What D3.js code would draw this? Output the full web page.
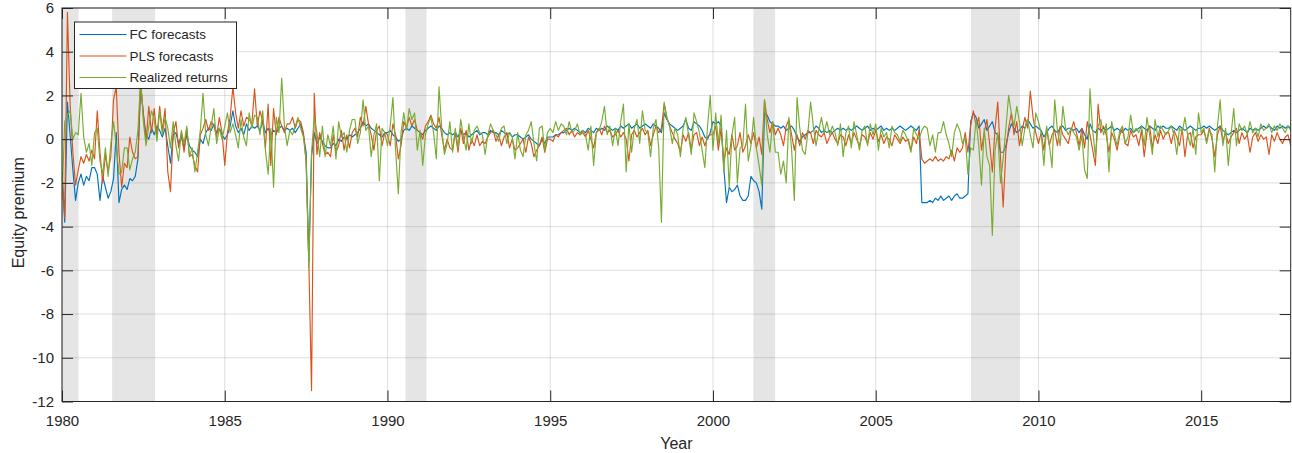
<!DOCTYPE html>
<html>
<head>
<meta charset="utf-8">
<script src="https://cdn.jsdelivr.net/npm/d3@7/dist/d3.min.js"></script>
<style>
body { margin: 0; background: #fff; }
svg { display: block; }
text { font-family: Arial, "Liberation Sans", sans-serif; fill: #262626; }
</style>
</head>
<body>
<svg id="chart" width="1292" height="453"></svg>
<script>
// monthly values, one row per year starting Jan 1980
const fcForecasts = [
  [-1.5,-3.8,1.7,0.2,-1.4,-2.8,-2.0,-1.6,-2.1,-1.7,-1.9,-1.3],
  [-1.3,-1.6,-2.8,-1.7,-2.2,-2.7,-2.4,-1.8,0.3,-2.9,-2.3,-2.1],
  [-2.3,-1.8,-1.9,-1.7,-0.9,2.5,1.1,0.2,0.0,0.5,0.2,0.6],
  [0.4,0.1,0.5,-0.3,-1.1,0.2,0.3,-0.2,0.1,-0.4,0.2,-0.3],
  [-0.5,-0.6,-0.8,0.0,-0.2,0.3,0.5,0.4,0.7,0.3,0.5,0.2],
  [0.0,0.2,0.6,1.3,0.6,0.3,0.5,0.2,0.7,0.4,0.6,0.5],
  [0.6,0.4,0.8,0.3,0.5,0.2,0.4,0.3,0.5,0.6,0.4,0.5],
  [0.4,0.5,0.3,0.5,0.7,0.2,-0.6,-5.6,-0.8,0.3,-0.2,0.1],
  [-0.1,-0.3,-0.4,-0.4,-0.2,-0.3,0.0,-0.1,0.1,0.0,0.2,0.1],
  [0.2,0.3,0.5,0.8,0.6,0.7,0.5,0.4,0.3,0.2,0.1,0.3],
  [0.3,0.4,0.2,0.1,-0.1,0.0,0.4,0.5,0.4,0.6,0.5,0.4],
  [0.3,0.2,0.4,0.5,0.6,0.5,0.4,0.6,0.5,0.3,0.2,0.3],
  [0.2,0.3,0.1,0.4,0.2,0.3,0.1,0.2,0.3,0.4,0.2,0.3],
  [0.3,0.2,0.4,0.3,0.3,0.2,0.4,0.3,0.2,0.3,0.1,0.2],
  [0.2,0.1,0.0,0.1,0.2,0.0,-0.1,-0.2,-0.3,0.0,-0.2,0.1],
  [0.1,0.1,0.2,0.2,0.3,0.3,0.4,0.5,0.4,0.5,0.4,0.3],
  [0.4,0.3,0.5,0.4,0.3,0.5,0.4,0.5,0.4,0.6,0.5,0.4],
  [0.5,0.4,0.6,0.5,0.6,0.7,0.5,0.6,0.7,0.5,0.6,0.7],
  [0.6,0.5,0.7,0.6,0.5,0.3,1.2,0.9,0.7,0.6,0.5,0.4],
  [0.5,0.6,0.9,0.5,0.4,0.8,0.7,0.6,0.4,0.1,0.0,0.3],
  [0.8,0.7,0.8,0.6,-1.3,-2.9,-2.2,-2.4,-2.3,-2.1,-2.6,-2.8],
  [-2.8,-2.6,-1.7,-1.9,-2.0,-2.4,-3.2,1.2,1.1,0.8,0.7,0.6],
  [0.6,0.5,0.6,0.4,0.5,0.6,0.4,0.1,-0.1,0.1,0.2,0.3],
  [0.3,0.4,0.6,0.5,0.3,0.4,0.3,0.4,0.3,0.4,0.5,0.4],
  [0.5,0.4,0.5,0.4,0.5,0.6,0.5,0.4,0.5,0.6,0.4,0.5],
  [0.4,0.5,0.6,0.4,0.5,0.4,0.5,0.4,0.5,0.6,0.5,0.4],
  [0.5,0.6,0.5,0.4,0.6,-2.9,-2.9,-2.9,-2.8,-2.9,-2.7,-2.8],
  [-2.6,-2.8,-2.7,-2.6,-2.8,-2.6,-2.5,-2.7,-2.7,-2.6,-2.5,0.8],
  [1.2,1.0,0.5,0.7,0.9,0.4,0.6,0.8,0.3,0.2,-0.6,-0.6],
  [-0.3,0.3,0.7,0.5,0.3,0.4,0.6,0.5,0.9,0.7,0.5,0.6],
  [0.5,0.4,0.1,0.3,0.5,0.6,0.4,0.3,0.5,0.6,0.4,0.5],
  [0.5,0.4,0.5,0.3,0.5,0.2,0.0,0.7,0.4,0.3,0.5,0.4],
  [0.5,0.4,0.5,0.6,0.4,0.5,0.4,0.3,0.5,0.4,0.5,0.3],
  [0.4,0.5,0.6,0.5,0.4,0.6,0.5,0.4,0.6,0.5,0.6,0.5],
  [0.5,0.6,0.5,0.4,0.6,0.5,0.4,0.5,0.6,0.5,0.4,0.5],
  [0.5,0.6,0.5,0.6,0.5,0.4,0.5,0.6,0.4,0.3,0.2,0.3],
  [0.4,0.3,0.4,0.5,0.4,0.3,0.5,0.4,0.5,0.4,0.5,0.6],
  [0.5,0.6,0.5,0.4,0.6,0.5,0.6,0.5,0.6,0.5]
]
const plsForecasts = [
  [-1.5,-3.6,5.8,1.6,-0.6,-2.1,-1.4,-0.8,-1.1,-0.7,-1.0,-0.5],
  [-0.9,1.3,-0.6,-2.0,-0.7,-1.5,-0.8,1.8,2.4,-0.6,-2.2,-1.1],
  [-1.3,0.1,-0.6,-0.9,-0.8,2.5,1.2,-0.1,1.5,0.3,1.4,0.1],
  [1.5,0.4,1.4,-1.5,-2.4,0.3,0.8,-0.4,0.3,-0.6,0.5,-0.8],
  [-0.7,-1.2,-1.5,0.2,0.5,0.9,0.4,0.8,0.6,0.1,1.0,0.3],
  [-1.2,0.3,1.0,2.4,1.2,0.5,1.3,0.6,1.0,0.9,0.7,2.3],
  [0.6,1.3,0.8,-0.4,1.6,-1.2,1.4,0.2,1.0,0.6,0.3,0.7],
  [0.7,1.0,0.5,0.9,0.8,0.3,-1.0,-5.6,-11.5,2.1,-0.7,0.3],
  [-0.2,-0.7,-0.6,-0.8,0.2,-0.6,-0.3,0.4,-0.5,0.2,-0.4,0.3],
  [0.5,0.1,1.0,0.6,1.5,0.7,0.2,-0.5,0.4,0.6,-0.3,0.3],
  [0.2,-0.3,0.7,0.2,-0.9,-0.3,0.8,0.5,1.0,0.6,0.9,0.4],
  [0.3,0.0,0.6,0.8,1.1,0.7,0.5,1.0,0.2,-0.5,0.0,-0.4],
  [-0.5,0.3,-0.6,0.5,-0.2,0.4,-0.5,0.0,-0.3,0.2,-0.3,-0.1],
  [-0.2,0.1,0.3,0.4,-0.1,0.2,-0.3,0.1,0.3,-0.4,0.0,-0.5],
  [-0.4,-0.2,0.0,-0.6,0.1,-0.2,-0.8,-0.5,-0.3,0.1,-0.6,0.0],
  [0.0,-0.1,0.2,0.1,0.3,0.4,0.5,0.2,0.4,0.1,0.3,0.2],
  [0.3,0.1,0.4,0.0,-0.4,0.3,0.5,0.2,0.6,0.3,0.4,0.1],
  [0.2,0.4,0.1,0.3,0.0,-1.0,0.2,0.4,0.1,0.3,0.5,0.2],
  [0.4,-0.3,0.2,0.6,0.3,0.5,1.6,1.0,0.6,0.3,0.0,-0.2],
  [-0.6,0.2,-0.1,0.3,-0.5,0.2,0.3,-0.3,0.1,-0.3,0.1,0.2],
  [0.2,0.6,-0.5,0.5,-1.0,-0.4,-0.7,0.2,-0.5,-0.3,0.3,-0.6],
  [-0.3,0.2,-0.2,0.3,-0.4,0.1,-0.7,1.8,0.9,0.3,0.8,0.2],
  [0.5,0.2,-0.3,0.6,0.9,0.2,-0.5,0.2,-0.3,0.3,0.0,0.4],
  [0.3,-0.2,0.4,0.2,0.1,0.3,-0.2,0.1,0.3,0.0,-0.2,0.2],
  [0.1,-0.3,0.2,-0.2,0.3,0.0,-0.3,0.2,0.1,-0.2,0.3,0.0],
  [0.4,-0.1,0.2,-0.2,0.1,0.0,-0.3,0.2,0.0,-0.2,0.1,-0.1],
  [0.0,-0.5,0.1,-0.2,0.4,-0.9,-1.1,-1.0,-0.9,-1.0,-0.8,-1.0],
  [-0.9,-1.0,-0.8,-0.9,-0.5,-1.0,-0.4,-0.6,-0.4,0.3,-0.6,0.6],
  [1.3,0.6,1.0,-0.5,0.3,0.9,-0.2,-1.5,0.5,1.7,-0.8,-3.1],
  [-0.5,0.5,1.2,0.2,0.8,-0.3,0.4,1.0,0.5,2.2,1.0,0.3],
  [-0.2,0.3,-0.5,0.5,-0.3,0.2,0.4,-0.3,0.6,0.2,0.0,-0.2],
  [0.4,0.8,0.3,-0.3,0.5,-0.4,0.8,0.2,-0.5,-1.2,1.6,0.3],
  [0.6,0.2,-0.6,0.3,0.0,-0.5,0.2,0.5,-0.2,-0.3,0.4,0.1],
  [0.2,-0.3,0.4,-0.8,0.3,0.6,-0.4,0.2,-0.2,0.4,0.0,0.3],
  [0.3,-0.2,0.4,0.1,-0.3,0.5,-0.8,0.2,0.3,-0.4,0.1,0.2],
  [0.2,0.4,-0.1,0.5,0.0,-0.8,0.2,0.6,-0.1,0.3,-0.2,0.1],
  [0.3,0.5,-0.2,0.3,0.0,0.2,-0.6,0.1,0.3,-0.1,0.2,0.0],
  [0.1,-0.7,0.2,-0.1,0.3,0.0,-0.2,0.1,0.2,-0.3]
]
const realizedReturns = [
  [-2.8,0.8,1.1,1.3,0.0,0.3,0.2,2.1,0.1,-0.6,-0.2,-1.2],
  [0.3,0.5,-1.0,-1.6,-0.4,-1.7,-0.2,0.8,-0.3,-1.6,-1.5,-0.4],
  [-0.4,-1.4,-0.9,-0.6,0.4,2.8,0.8,-0.3,0.6,1.3,0.9,-0.1],
  [1.3,0.2,1.0,0.5,-0.4,0.8,-0.3,-1.0,0.4,-0.2,0.6,-0.8],
  [-0.4,-1.5,-0.6,0.4,2.1,0.2,-0.3,0.6,1.4,-0.2,0.5,0.0],
  [0.6,1.2,0.3,0.7,0.2,-0.4,0.9,0.1,-0.3,1.2,0.5,1.1],
  [1.0,0.2,1.3,-0.5,-1.6,0.5,-2.2,1.0,0.3,2.8,0.6,-0.3],
  [0.4,0.2,0.6,1.0,0.5,0.1,-1.0,-5.9,-0.6,1.0,0.3,-0.8],
  [0.6,-0.8,0.2,-0.3,0.6,-0.9,0.8,0.1,0.3,-0.6,0.4,0.9],
  [0.9,-0.2,0.3,1.8,0.4,0.6,-0.8,0.2,0.7,-1.9,0.5,0.3],
  [-0.3,0.6,1.9,-0.5,-2.5,0.3,1.2,0.4,1.4,0.9,1.2,-0.5],
  [0.4,-1.2,0.2,0.7,1.0,0.3,-0.9,2.4,0.5,-0.7,-0.2,0.8],
  [-0.6,0.5,-0.4,0.9,0.1,-0.5,0.7,-0.2,0.4,0.6,0.3,0.2],
  [-0.7,0.2,0.7,0.4,0.2,-0.1,0.5,0.6,-0.2,0.3,0.1,-0.9],
  [0.3,-0.5,-0.8,0.2,0.4,0.8,-0.2,-1.0,0.5,0.6,-0.5,0.3],
  [0.5,0.3,0.8,0.4,0.7,0.6,0.2,0.8,0.3,0.4,0.7,0.2],
  [0.4,0.2,-0.5,0.6,-1.2,0.3,0.4,0.8,1.5,0.2,0.6,-0.3],
  [0.5,-0.3,0.8,1.6,-1.5,0.7,-0.6,0.5,0.9,-0.2,1.3,0.4],
  [0.3,-0.8,0.5,0.9,-0.4,-3.8,1.7,1.0,0.6,-0.2,0.5,0.2],
  [-0.8,0.5,1.0,0.2,-0.7,1.2,0.8,0.3,-0.5,-1.3,0.6,2.0],
  [-0.5,1.2,-0.2,1.1,-1.5,0.4,-2.2,0.2,1.0,-2.0,-0.4,-0.3],
  [1.6,-1.0,-0.3,1.0,-0.4,-1.2,-2.1,1.8,0.2,-0.6,0.8,-0.6],
  [-0.6,-1.6,-1.0,-2.0,1.0,-0.5,-2.8,1.9,0.5,-0.5,-0.7,0.3],
  [1.7,0.6,-0.3,0.4,1.0,0.3,0.8,0.2,0.6,0.3,-0.3,0.7],
  [-0.8,0.3,0.6,-0.4,0.8,0.2,-0.5,0.4,0.6,-0.3,0.7,0.2],
  [0.7,-0.5,0.5,0.1,0.3,-0.4,0.6,0.3,0.2,-0.1,0.4,0.2],
  [-0.1,-0.6,0.5,0.2,0.0,0.4,0.6,0.5,-0.3,0.2,-0.6,0.3],
  [0.3,0.8,0.2,-0.2,-0.8,0.3,0.7,0.4,-0.2,0.1,-1.6,-0.4],
  [-0.5,0.9,-0.3,-2.1,0.5,-0.8,-1.2,-4.4,-0.5,0.3,-2.0,-0.9],
  [0.5,2.0,1.2,0.6,1.5,0.8,-0.3,0.5,0.9,0.2,-0.4,1.2],
  [0.8,0.3,-1.2,0.6,-0.2,-1.3,1.8,0.4,-0.3,1.5,0.5,0.2],
  [0.5,0.3,0.1,-0.5,0.2,-1.4,-1.8,2.3,0.4,-0.8,0.6,0.9],
  [0.2,0.7,-1.5,0.8,0.2,-0.3,0.4,0.6,-0.2,0.1,1.1,0.3],
  [0.5,0.3,0.6,-0.3,1.0,0.2,-0.7,0.9,0.1,0.6,0.4,0.2],
  [0.4,0.6,0.2,-0.7,0.5,0.3,1.0,0.2,-0.3,0.5,-0.7,1.2],
  [0.3,0.5,-0.2,0.4,0.2,-1.5,0.6,1.8,-0.3,0.5,-1.2,0.2],
  [1.4,-0.3,0.7,0.4,0.6,0.2,0.8,0.3,0.5,0.1,0.7,0.4],
  [0.5,0.7,0.3,0.6,0.4,0.7,0.5,0.3,0.6,0.4]
]
// shaded recession periods (decimal years)
const recessions = [[1980.0, 1980.51], [1981.54, 1982.86], [1990.55, 1991.2], [2001.24, 2001.91], [2007.93, 2009.43]]
const xTicks = [1980, 1985, 1990, 1995, 2000, 2005, 2010, 2015]
const yTicks = [-12, -10, -8, -6, -4, -2, 0, 2, 4, 6]
const seriesNames = ['FC forecasts', 'PLS forecasts', 'Realized returns']
const seriesColors = ['#0072BD', '#D95319', '#77AC30']

const toPoints = (rows) => rows.flat().map((v, i) => ({ t: 1980 + i / 12, v: v }))
const series = [fcForecasts, plsForecasts, realizedReturns].map(toPoints)

const svg = d3.select('#chart')
const plotLeft = 62, plotRight = 1290.7, plotTop = 8, plotBottom = 401.5

const x = d3.scaleLinear().domain([1980, 1980 + (series[0].length - 1) / 12]).range([plotLeft, plotRight])
const y = d3.scaleLinear().domain([-12, 6]).range([plotBottom, plotTop])

svg.append('defs').append('clipPath').attr('id', 'plot')
    .append('rect').attr('x', plotLeft).attr('y', plotTop)
    .attr('width', plotRight - plotLeft).attr('height', plotBottom - plotTop)

// recession bands
svg.append('g').selectAll('rect')
    .data(recessions)
    .enter()
    .append('rect')
    .attr('x', (d) => x(d[0]))
    .attr('width', (d) => x(d[1]) - x(d[0]))
    .attr('y', plotTop)
    .attr('height', plotBottom - plotTop)
    .attr('fill', '#e5e5e5')

// grid
const grid = svg.append('g').attr('stroke', '#262626').attr('stroke-opacity', 0.15).attr('stroke-width', 1)
grid.selectAll('.gx').data(xTicks).enter().append('line')
    .attr('x1', (d) => x(d)).attr('x2', (d) => x(d)).attr('y1', plotTop).attr('y2', plotBottom)
grid.selectAll('.gy').data(yTicks).enter().append('line')
    .attr('x1', plotLeft).attr('x2', plotRight).attr('y1', (d) => y(d)).attr('y2', (d) => y(d))

// series
const line = d3.line().x((d) => x(d.t)).y((d) => y(d.v))
svg.append('g').attr('clip-path', 'url(#plot)')
    .selectAll('path')
    .data(series)
    .enter()
    .append('path')
    .attr('d', line)
    .attr('fill', 'none')
    .attr('stroke', (d, i) => seriesColors[i])
    .attr('stroke-width', 1.15)
    .attr('stroke-linejoin', 'round')

// axes (MATLAB style: inward ticks on all four sides, plain hyphen for negatives)
const tickLen = 11
const plain = (d) => String(d)
const xAxisBottom = d3.axisBottom(x).tickValues(xTicks).tickFormat(plain).tickSizeInner(-tickLen).tickSizeOuter(0).tickPadding(14)
const xAxisTop = d3.axisTop(x).tickValues(xTicks).tickFormat('').tickSizeInner(-tickLen).tickSizeOuter(0)
const yAxisLeft = d3.axisLeft(y).tickValues(yTicks).tickFormat(plain).tickSizeInner(-tickLen).tickSizeOuter(0).tickPadding(8)
const yAxisRight = d3.axisRight(y).tickValues(yTicks).tickFormat('').tickSizeInner(-tickLen).tickSizeOuter(0)

const styleAxis = (g) => {
    g.select('.domain').remove()
    g.selectAll('line').attr('stroke', '#262626')
    g.selectAll('text').attr('fill', '#262626').style('font-size', '15px').style('font-family', 'Arial, "Liberation Sans", sans-serif')
}
svg.append('g').attr('transform', `translate(0,${plotBottom})`).call(xAxisBottom).call(styleAxis)
svg.append('g').attr('transform', `translate(0,${plotTop})`).call(xAxisTop).call(styleAxis)
svg.append('g').attr('transform', `translate(${plotLeft},0)`).call(yAxisLeft).call(styleAxis)
svg.append('g').attr('transform', `translate(${plotRight},0)`).call(yAxisRight).call(styleAxis)

svg.append('rect')
    .attr('x', plotLeft).attr('y', plotTop).attr('width', plotRight - plotLeft).attr('height', plotBottom - plotTop)
    .attr('fill', 'none').attr('stroke', '#262626').attr('stroke-width', 1)

svg.append('text')
    .attr('x', (plotLeft + plotRight) / 2).attr('y', 449)
    .attr('text-anchor', 'middle')
    .style('font-size', '16px')
    .text('Year')

svg.append('text')
    .attr('transform', `translate(24,${(plotTop + plotBottom) / 2 + 8}) rotate(-90)`)
    .attr('text-anchor', 'middle')
    .style('font-size', '16px')
    .text('Equity premium')

// legend
const legend = svg.append('g').attr('transform', 'translate(74.5,22)')
legend.append('rect')
    .attr('width', 162).attr('height', 66.5)
    .attr('fill', '#fff').attr('stroke', '#262626').attr('stroke-width', 1)
const items = legend.selectAll('.item')
    .data(seriesNames)
    .enter()
    .append('g')
    .attr('transform', (d, i) => `translate(0,${12.5 + i * 21.5})`)
items.append('line')
    .attr('x1', 5).attr('x2', 52).attr('y1', 0).attr('y2', 0)
    .attr('stroke', (d, i) => seriesColors[i]).attr('stroke-width', 1.15)
items.append('text')
    .attr('x', 55).attr('y', 0).attr('dy', '0.35em')
    .style('font-size', '13.5px')
    .text((d) => d)
</script>
</body>
</html>
